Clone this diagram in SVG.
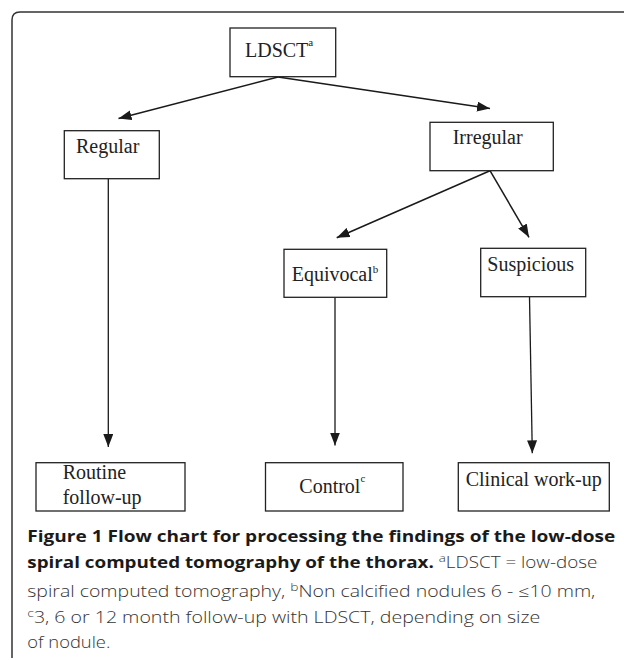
<svg xmlns="http://www.w3.org/2000/svg" width="624" height="660" viewBox="0 0 624 660">
<style>
.box{fill:#fff;stroke:#222;stroke-width:1.3}
.lbl{font-family:"Liberation Serif","Times New Roman",serif;font-size:20px;fill:#222}
.sup{font-size:11px}
.conn{stroke:#1a1a1a;stroke-width:1.5;fill:none}
.vert{stroke:#1a1a1a;stroke-width:1.3;fill:none}
.cap{font-family:"Open Sans","Noto Sans","DejaVu Sans",sans-serif;font-size:15.5px}
.b{font-weight:700;fill:#1a1a1a}
.r{font-weight:300;fill:#333}
.frame{fill:none;stroke:#333;stroke-width:1.5}
</style>
<defs>
<marker id="ah" markerUnits="userSpaceOnUse" markerWidth="13" markerHeight="10" refX="13" refY="5" orient="auto">
<path d="M0,0 L13,5 L0,10 z" fill="#1a1a1a"/>
</marker>
</defs>
<rect width="624" height="660" fill="#fff"/>
<path class="frame" d="M12,658 L12,20 Q12,12 20,12 L624,12"/>
<g id="connectors">
<line class="conn" x1="278" y1="77" x2="118.5" y2="118.5" marker-end="url(#ah)"/>
<line class="conn" x1="278" y1="77" x2="490" y2="108.5" marker-end="url(#ah)"/>
<line class="conn" x1="490" y1="170.7" x2="336.7" y2="237.7" marker-end="url(#ah)"/>
<line class="conn" x1="490" y1="170.7" x2="529" y2="237.3" marker-end="url(#ah)"/>
<line class="vert" x1="108.3" y1="178.7" x2="108.3" y2="447" marker-end="url(#ah)"/>
<line class="vert" x1="335" y1="297.3" x2="335" y2="445.5" marker-end="url(#ah)"/>
<line class="vert" x1="529.5" y1="296.7" x2="532.3" y2="453.3" marker-end="url(#ah)"/>
</g>
<g id="node-ldsct">
<rect class="box" x="230" y="28" width="105.7" height="48.7"/>
<text class="lbl" x="245" y="56.7">LDSCT<tspan class="sup" dy="-11">a</tspan></text>
</g>
<g id="node-regular">
<rect class="box" x="64.3" y="130.7" width="95" height="48"/>
<text class="lbl" x="76" y="153.3">Regular</text>
</g>
<g id="node-irregular">
<rect class="box" x="430" y="122.3" width="123.3" height="48.4"/>
<text class="lbl" x="452.7" y="144">Irregular</text>
</g>
<g id="node-equivocal">
<rect class="box" x="284" y="249.3" width="102.7" height="48"/>
<text class="lbl" x="291.7" y="280.7">Equivocal<tspan class="sup" dy="-7.5">b</tspan></text>
</g>
<g id="node-suspicious">
<rect class="box" x="480.7" y="248.3" width="105" height="48.4"/>
<text class="lbl" x="487.3" y="270.7">Suspicious</text>
</g>
<g id="node-routine">
<rect class="box" x="36" y="462.7" width="149" height="48.3"/>
<text class="lbl" x="62.7" y="479.3">Routine</text>
<text class="lbl" x="62.7" y="504">follow-up</text>
</g>
<g id="node-control">
<rect class="box" x="265.5" y="462.7" width="137.5" height="48.3"/>
<text class="lbl" x="299.3" y="492.7">Control<tspan class="sup" dy="-10.5">c</tspan></text>
</g>
<g id="node-clinical">
<rect class="box" x="458.3" y="462.7" width="151" height="48.3"/>
<text class="lbl" x="465.7" y="486">Clinical work-up</text>
</g>
<g id="caption" class="cap">
<text x="27.3" y="541.7" class="b" textLength="588" lengthAdjust="spacingAndGlyphs">Figure 1 Flow chart for processing the findings of the low-dose</text>
<text x="27.3" y="568.3" textLength="570" lengthAdjust="spacingAndGlyphs"><tspan class="b">spiral computed tomography of the thorax.</tspan><tspan class="r"> </tspan><tspan class="r" font-size="11" dy="-6">a</tspan><tspan class="r" dy="6">LDSCT = low-dose</tspan></text>
<text x="27.3" y="596.7" class="r" textLength="568" lengthAdjust="spacingAndGlyphs">spiral computed tomography, <tspan font-size="11" dy="-6">b</tspan><tspan dy="6">Non calcified nodules 6 - ≤10 mm,</tspan></text>
<text x="27.3" y="623.3" class="r" textLength="513" lengthAdjust="spacingAndGlyphs"><tspan font-size="11" dy="-6">c</tspan><tspan dy="6">3, 6 or 12 month follow-up with LDSCT, depending on size</tspan></text>
<text x="27.3" y="648.3" class="r" textLength="83" lengthAdjust="spacingAndGlyphs">of nodule.</text>
</g>
</svg>
